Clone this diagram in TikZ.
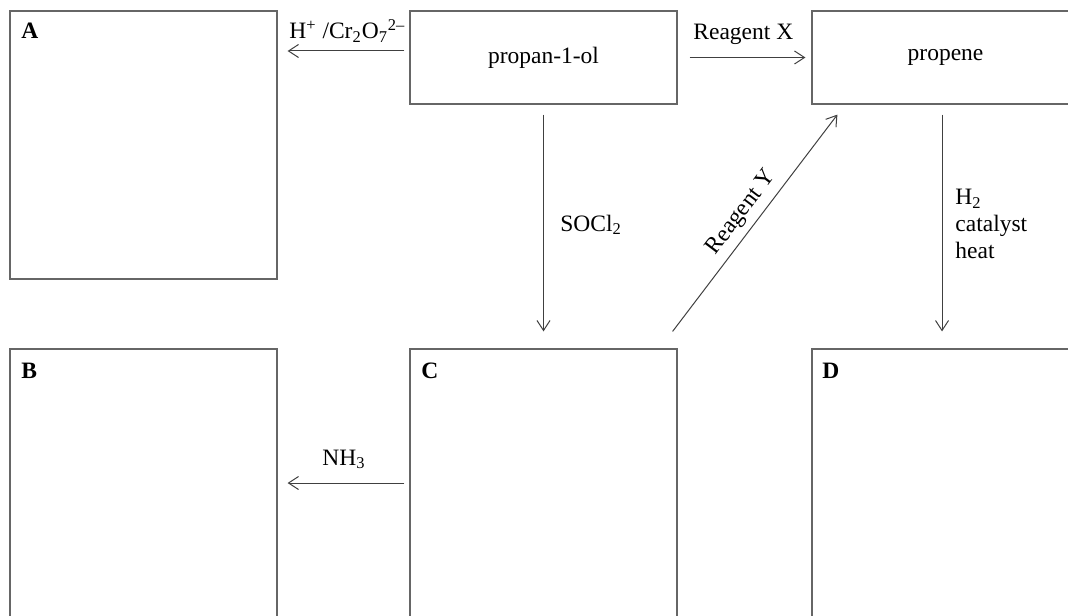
\documentclass[tikz,border=0pt]{standalone}
\usepackage{fontspec}
\setmainfont{Liberation Serif}
\usetikzlibrary{arrows.meta}

\begin{document}
\begin{tikzpicture}[x=0.5pt,y=-0.5pt,>={Straight Barb[length=5pt,width=6.5pt]},
  every node/.style={font=\fontsize{11.75}{13.5}\selectfont},
  box/.style={draw=black!60,line width=0.6pt,minimum width=133.5pt,minimum height=134pt,inner sep=0pt},
  hdbox/.style={draw=black!60,line width=0.6pt,minimum width=133.5pt,minimum height=46.5pt,inner sep=0pt},
  tag/.style={anchor=base west,inner sep=0pt,font=\fontsize{11.75}{13.5}\selectfont\bfseries},
  lbl/.style={anchor=base west,inner sep=0pt},
  rxn/.style={->,draw=black!75,line width=0.5pt}]
%%
\useasboundingbox (0,0) rectangle (1068,615);
\clip (0,0) rectangle (1068,615);
\node (boxA) at (143.5,145) [box] {};
  \node (prop) at (543.5,57.5) [hdbox] {propan-1-ol};
  \node (propene) at (945.5,57.5) [hdbox] {propene};
  \node (boxB) at (143.5,483) [box] {};
  \node (boxC) at (543.5,483) [box] {};
  \node (boxD) at (945.5,483) [box] {};
  \node (tagA) at (21,39) [tag] {A};
  \node (tagB) at (21,378) [tag] {B};
  \node (tagC) at (421,378) [tag] {C};
  \node (tagD) at (822,378) [tag] {D};
  \node (lblox) at (289,39) [lbl] {H\textsuperscript{+} /Cr\textsubscript{2}O\textsubscript{7}\textsuperscript{2–}};
  \node (lblX) at (693,40) [lbl] {Reagent X};
  \node (lblso) at (560,231) [lbl] {SOCl\textsubscript{2}};
  \node (lblh) at (955,189) [lbl,anchor=north west,align=left] {H\textsubscript{2}\\catalyst\\heat};
  \node (lblnh) at (322,465) [lbl] {NH\textsubscript{3}};
  \draw [rxn,shorten <=2.5pt,shorten >=5pt] ([yshift=3.25pt]prop.west) -- ([yshift=3.25pt]prop.west -| boxA.east);
  \draw [rxn,shorten <=6pt,shorten >=3pt] (prop) -- (propene);
  \draw [rxn,shorten <=5pt,shorten >=8.5pt] (prop) -- (boxC);
  \draw [rxn] ([shift={(-5,-17)}]boxC.north east) -- node[sloped,above,inner sep=3pt] (lblY) {Reagent Y} ([shift={(26,10)}]propene.south west);
  \draw [rxn,shorten <=5pt,shorten >=8.5pt] ([xshift=-1.75pt]propene.south) -- ([xshift=-1.75pt]propene.south |- boxD.north);
  \draw [rxn,shorten <=2.5pt,shorten >=5pt] (boxC) -- (boxB);
%
\end{tikzpicture}
\end{document}
